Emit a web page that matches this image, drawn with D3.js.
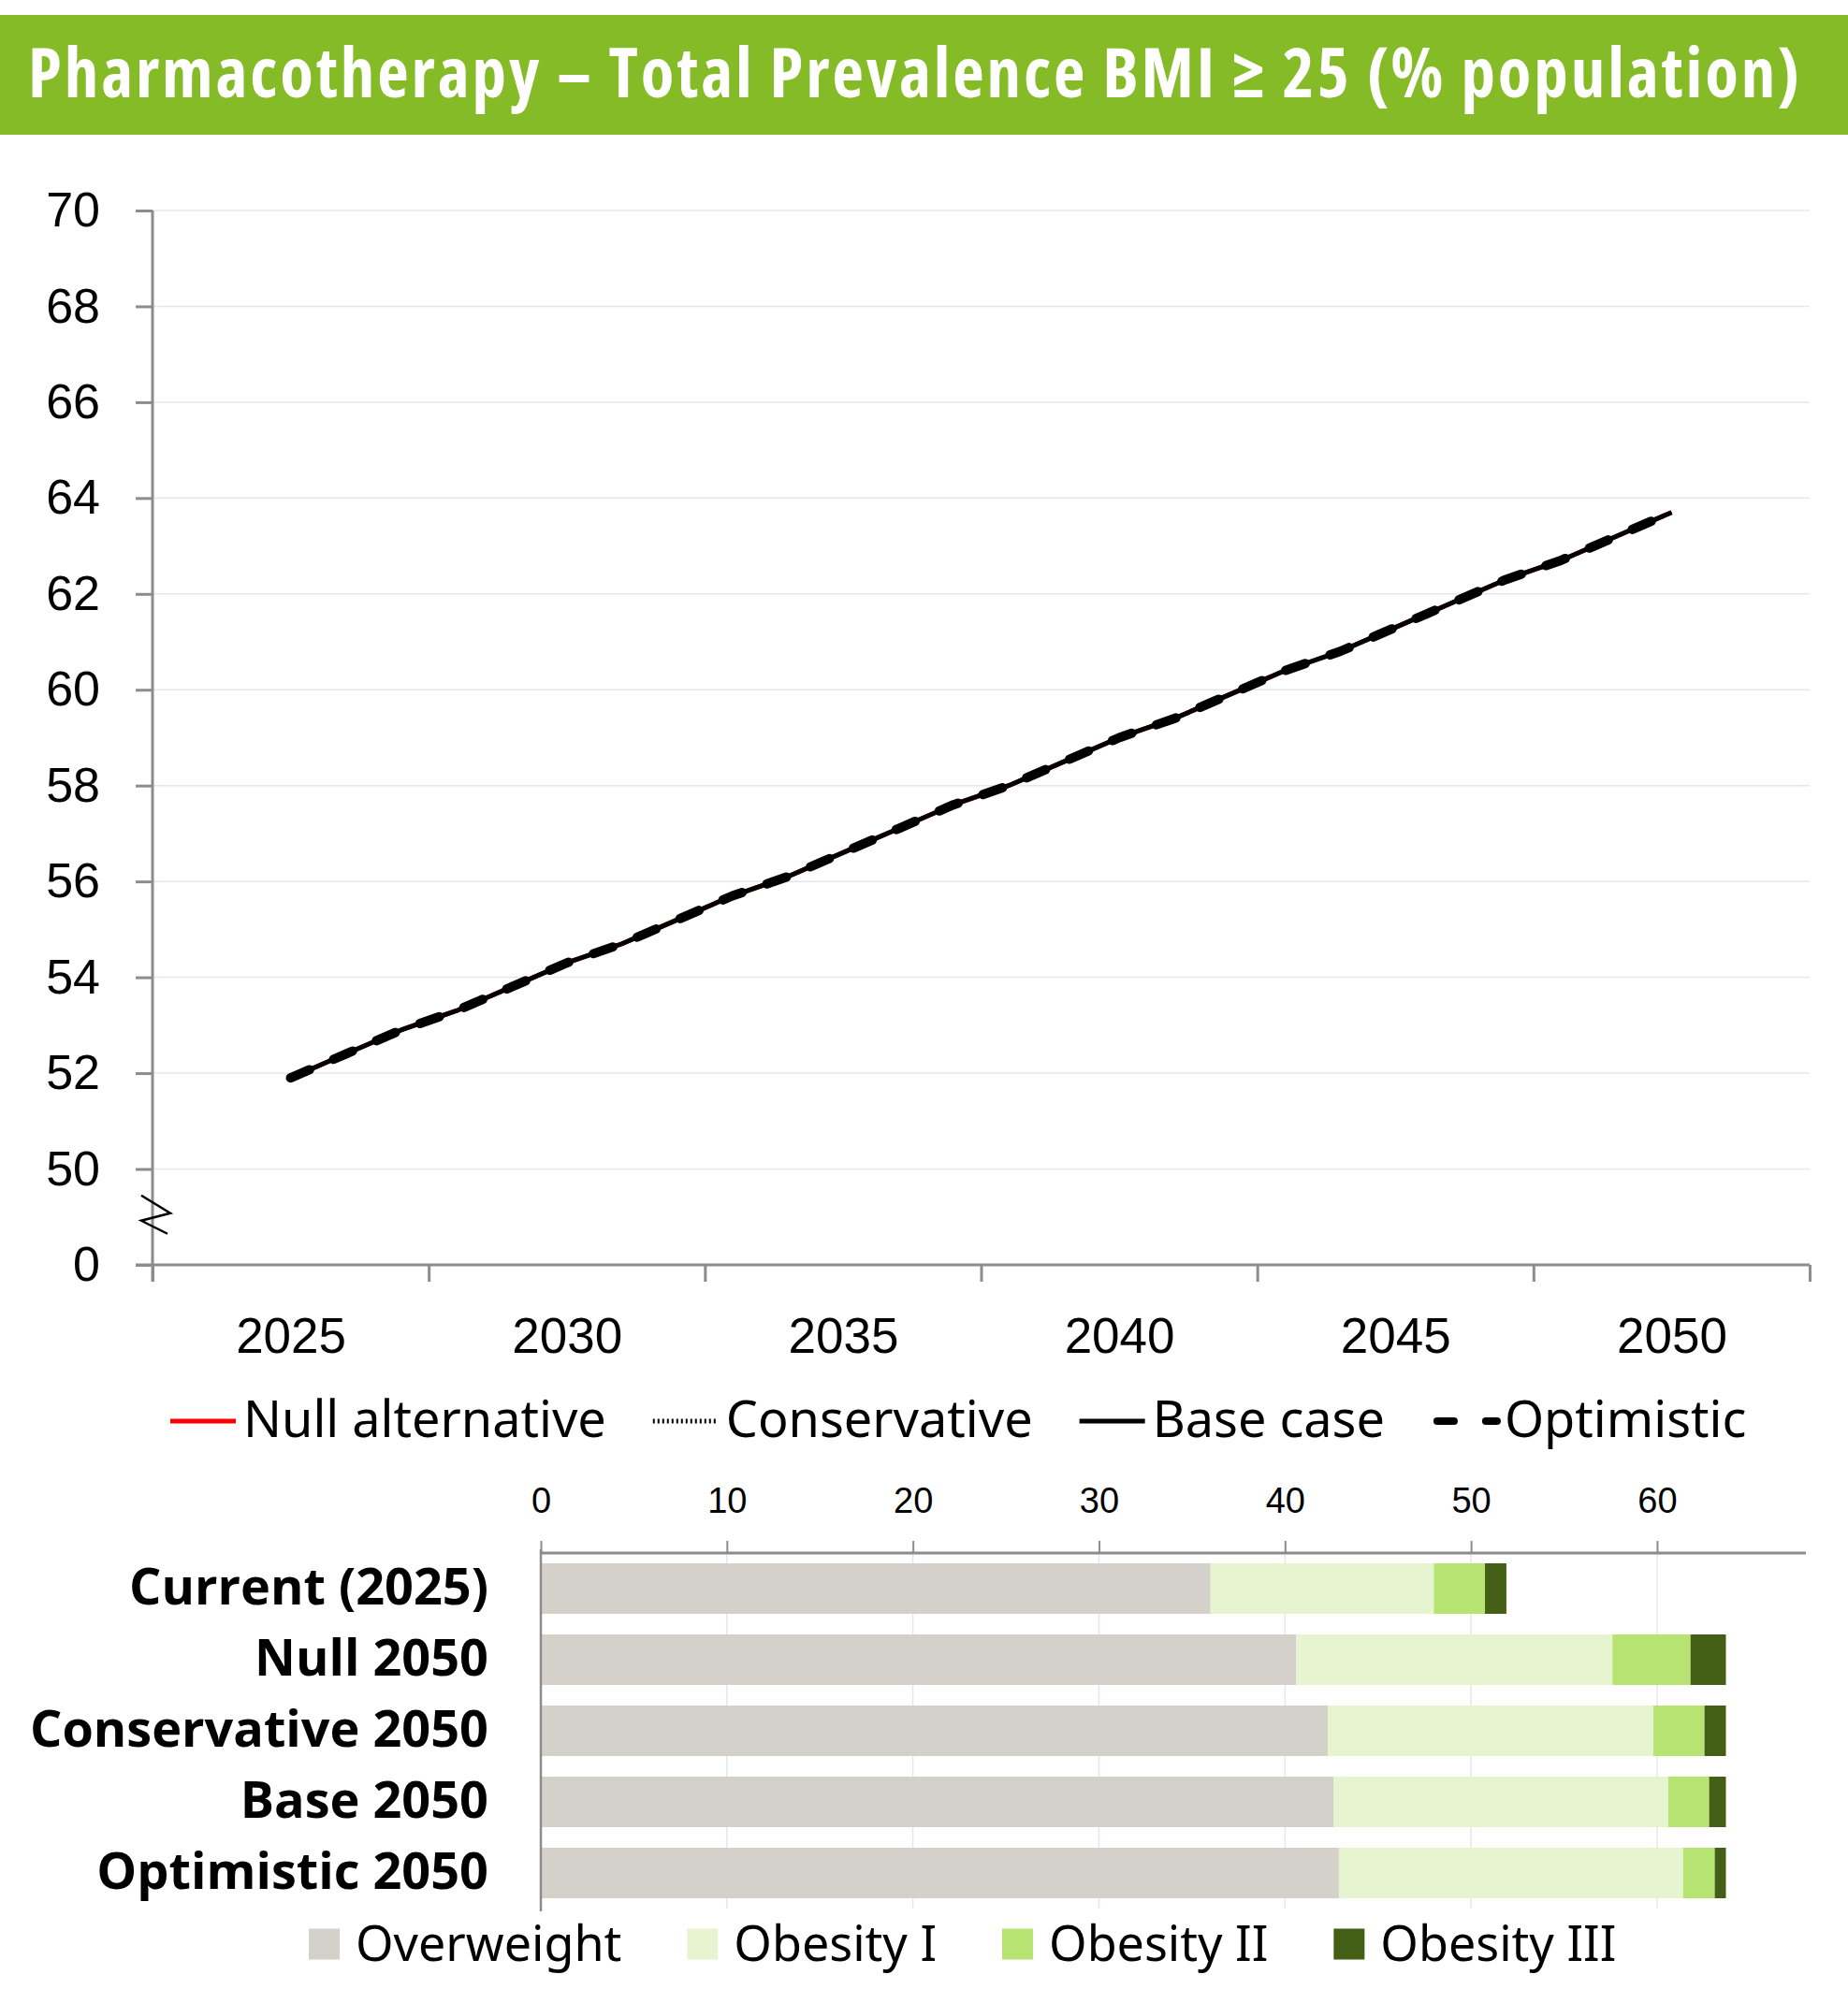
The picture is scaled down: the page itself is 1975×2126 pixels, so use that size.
<!DOCTYPE html>
<html>
<head>
<meta charset="utf-8">
<script src="https://cdn.jsdelivr.net/npm/d3@7"></script>
<style>
  html, body { margin: 0; padding: 0; background: #fff; }
  svg { display: block; }
</style>
</head>
<body>
<svg id="chart" width="1975" height="2126"></svg>
<script>
// ---- Data ----------------------------------------------------------------
const titleText = "Pharmacotherapy \u2013 Total Prevalence BMI \u2265 25 (% population)";

const years = [2025, 2026, 2027, 2028, 2029, 2030, 2031, 2032, 2033, 2034, 2035, 2036, 2037,
               2038, 2039, 2040, 2041, 2042, 2043, 2044, 2045, 2046, 2047, 2048, 2049, 2050];

const nullAlternative = [51.9, 52.4, 52.9, 53.3, 53.8, 54.3, 54.7, 55.2, 55.7, 56.1, 56.6, 57.1, 57.6,
                         58.0, 58.5, 59.0, 59.4, 59.9, 60.4, 60.8, 61.3, 61.8, 62.3, 62.7, 63.2, 63.7];
const conservative    = [51.9, 52.4, 52.9, 53.3, 53.8, 54.3, 54.7, 55.2, 55.7, 56.1, 56.6, 57.1, 57.6,
                         58.0, 58.5, 59.0, 59.4, 59.9, 60.4, 60.8, 61.3, 61.8, 62.3, 62.7, 63.2, 63.7];
const baseCase        = [51.9, 52.4, 52.9, 53.3, 53.8, 54.3, 54.7, 55.2, 55.7, 56.1, 56.6, 57.1, 57.6,
                         58.0, 58.5, 59.0, 59.4, 59.9, 60.4, 60.8, 61.3, 61.8, 62.3, 62.7, 63.2, 63.7];
const optimistic      = [51.9, 52.4, 52.9, 53.3, 53.8, 54.3, 54.7, 55.2, 55.7, 56.1, 56.6, 57.1, 57.6,
                         58.0, 58.5, 59.0, 59.4, 59.9, 60.4, 60.8, 61.3, 61.8, 62.3, 62.7, 63.2, 63.7];

const lineSeriesNames = ["Null alternative", "Conservative", "Base case", "Optimistic"];

const yTickValues = [0, 50, 52, 54, 56, 58, 60, 62, 64, 66, 68, 70];
const xLabelYears = [2025, 2030, 2035, 2040, 2045, 2050];
const xTickBounds = [2022.5, 2027.5, 2032.5, 2037.5, 2042.5, 2047.5, 2052.5];

// Stacked bar breakdown by BMI class
const barCategories = ["Current (2025)", "Null 2050", "Conservative 2050", "Base 2050", "Optimistic 2050"];
const bmiClasses   = ["Overweight", "Obesity I", "Obesity II", "Obesity III"];
const overweight   = [36.0, 40.6, 42.3, 42.6, 42.9];
const obesityI     = [12.0, 17.0, 17.5, 18.0, 18.5];
const obesityII    = [2.75, 4.2, 2.75, 2.2, 1.7];
const obesityIII   = [1.15, 1.9, 1.15, 0.9, 0.6];
const barTicks     = [0, 10, 20, 30, 40, 50, 60];

// ---- Styling -------------------------------------------------------------
const axisColor = "#8c8c8c";
const gridColor = "#e4e8ee";
const numFont = "'Liberation Sans', Arial, sans-serif";
const txtFont = "'Noto Sans', 'Open Sans', sans-serif";
const classColors = ["#d4d1ca", "#e6f5d0", "#b6e371", "#435f15"];

const svg = d3.select("#chart");

// ---- Title banner --------------------------------------------------------
svg.append("rect").attr("x", 0).attr("y", 16).attr("width", 1975).attr("height", 128)
  .attr("fill", "#84bb26");
const title = svg.append("text").attr("x", 30).attr("y", 104)
  .attr("fill", "#fff").attr("font-family", "'Open Sans', sans-serif")
  .attr("font-weight", 700).attr("font-stretch", "semi-condensed").attr("font-size", 73)
  .text(titleText);
// spread the banner text across the banner width
const titleW = title.node().getComputedTextLength();
const titleMax = 1893;
if (titleW < titleMax) {
  title.attr("letter-spacing", (titleMax - titleW) / (titleText.length - 1));
} else {
  title.attr("font-size", 73 * titleMax / titleW);
}

// ---- Line chart ----------------------------------------------------------
const x = d3.scaleLinear().domain([2022.5, 2052.5]).range([163, 1934]);
// polylinear domain gives the broken axis between 0 and 50
const y = d3.scaleLinear().domain([0, 50, 70]).range([1352, 1249.5, 225]);

const lc = svg.append("g");

// horizontal gridlines
lc.append("g").selectAll("line").data(yTickValues.filter(d => d > 0)).join("line")
  .attr("x1", x.range()[0]).attr("x2", x.range()[1])
  .attr("y1", d => y(d)).attr("y2", d => y(d))
  .attr("stroke", gridColor).attr("stroke-width", 1.5);

// y axis
const yAxis = lc.append("g").attr("transform", `translate(${x.range()[0]},0)`)
  .call(d3.axisLeft(y).tickValues(yTickValues).tickSize(18).tickPadding(38).tickFormat(d3.format("d")));
yAxis.select(".domain").attr("stroke", axisColor).attr("stroke-width", 3)
  .attr("d", `M0,${y(70)}V${y(0) + 18}`);
yAxis.selectAll(".tick line").attr("stroke", axisColor).attr("stroke-width", 3);
yAxis.selectAll(".tick text").attr("font-family", numFont).attr("font-size", 52).attr("fill", "#000");

// x axis: tick marks on category boundaries, labels every 5 years
const xAxis = lc.append("g").attr("transform", `translate(0,${y(0)})`)
  .call(d3.axisBottom(x).tickValues(xTickBounds).tickSize(18).tickFormat(""));
xAxis.select(".domain").attr("stroke", axisColor).attr("stroke-width", 3)
  .attr("d", `M${x.range()[0] - 18},0H${x.range()[1]}`);
xAxis.selectAll(".tick line").attr("stroke", axisColor).attr("stroke-width", 3);

const xLab = lc.append("g").attr("transform", `translate(0,${y(0)})`)
  .call(d3.axisBottom(x).tickValues(xLabelYears).tickSize(0).tickPadding(56).tickFormat(d3.format("d")));
xLab.select(".domain").remove();
xLab.selectAll(".tick text").attr("font-family", numFont).attr("font-size", 53).attr("fill", "#000");

// axis break marker between 0 and 50
const brk = y((0 + 50) / 2) - 3;
lc.append("path")
  .attr("d", `M${x.range()[0] - 12},${brk - 20}L${x.range()[0] + 19},${brk - 1}L${x.range()[0] - 12},${brk + 7}L${x.range()[0] + 16},${brk + 21}`)
  .attr("fill", "none").attr("stroke", "#000").attr("stroke-width", 2.5);

// series
const lineStyles = [
  { color: "#ff0000", width: 5, dash: null, cap: "butt" },
  { color: "#000", width: 4, dash: "2,3", cap: "butt" },
  { color: "#000", width: 5, dash: null, cap: "butt" },
  { color: "#000", width: 10, dash: "22,28", cap: "round" }
];
const seriesValues = [nullAlternative, conservative, baseCase, optimistic];
const lineGen = d3.line().x(d => x(d[0])).y(d => y(d[1]));

seriesValues.forEach((vals, i) => {
  const st = lineStyles[i];
  lc.append("path")
    .datum(years.map((yr, k) => [yr, vals[k]]))
    .attr("d", lineGen)
    .attr("fill", "none").attr("stroke", st.color).attr("stroke-width", st.width)
    .attr("stroke-dasharray", st.dash).attr("stroke-linecap", st.cap)
    .attr("stroke-linejoin", "round");
});

// line legend
const lg = svg.append("g").attr("transform", "translate(182,1519)");
let lx = 0;
lineSeriesNames.forEach((name, i) => {
  const st = lineStyles[i];
  const sw = 70;
  lg.append("line").attr("x1", lx + (i === 3 ? 6 : 0)).attr("x2", lx + sw).attr("y1", 0).attr("y2", 0)
    .attr("stroke", st.color).attr("stroke-width", i === 3 ? 8 : 5)
    .attr("stroke-dasharray", i === 3 ? "18,34" : st.dash)
    .attr("stroke-linecap", st.cap);
  const t = lg.append("text").attr("x", lx + sw + 8).attr("y", 17)
    .attr("font-family", txtFont).attr("font-size", 54).attr("fill", "#000").text(name);
  lx += sw + 8 + t.node().getComputedTextLength() + 50;
});

// ---- Stacked bar chart ---------------------------------------------------
const xb = d3.scaleLinear().domain([0, 68]).range([578, 1930]);
const yb = d3.scaleBand().domain(barCategories).range([1660, 2040]).paddingInner(0.29).paddingOuter(0.145);

const bc = svg.append("g");

// vertical gridlines
bc.append("g").selectAll("line").data(barTicks.filter(d => d > 0)).join("line")
  .attr("x1", d => xb(d)).attr("x2", d => xb(d))
  .attr("y1", yb.range()[0]).attr("y2", yb.range()[1])
  .attr("stroke", gridColor).attr("stroke-width", 1.5);

const classValues = [overweight, obesityI, obesityII, obesityIII];
const rows = barCategories.map((c, i) => {
  const r = { category: c };
  bmiClasses.forEach((k, j) => { r[k] = classValues[j][i]; });
  return r;
});
const stacked = d3.stack().keys(bmiClasses)(rows);

bc.append("g").selectAll("g").data(stacked).join("g")
  .attr("fill", (d, i) => classColors[i])
  .selectAll("rect").data(d => d).join("rect")
  .attr("x", d => xb(d[0]))
  .attr("width", d => xb(d[1]) - xb(d[0]))
  .attr("y", d => yb(d.data.category))
  .attr("height", yb.bandwidth());

// top value axis
const xbAxis = bc.append("g").attr("transform", `translate(0,${yb.range()[0]})`)
  .call(d3.axisTop(xb).tickValues(barTicks).tickSize(13).tickPadding(30).tickFormat(d3.format("d")));
xbAxis.select(".domain").attr("stroke", axisColor).attr("stroke-width", 3)
  .attr("d", `M${xb.range()[0]},0H${xb.range()[1]}`);
xbAxis.selectAll(".tick line").attr("stroke", axisColor).attr("stroke-width", 2);
xbAxis.selectAll(".tick text").attr("font-family", numFont).attr("font-size", 38).attr("fill", "#000");

// category axis
const ybAxis = bc.append("g").attr("transform", `translate(${xb.range()[0]},0)`)
  .call(d3.axisLeft(yb).tickSize(0).tickPadding(56));
ybAxis.select(".domain").attr("stroke", axisColor).attr("stroke-width", 2.5)
  .attr("d", `M0,${yb.range()[0] - 4}V${yb.range()[1] + 3}`);
ybAxis.selectAll(".tick text").attr("font-family", "'Open Sans', sans-serif")
  .attr("font-weight", 700).attr("font-size", 54).attr("fill", "#000");

// bar legend
const bl = svg.append("g").attr("transform", "translate(330,2078)");
let bx = 0;
bmiClasses.forEach((name, i) => {
  bl.append("rect").attr("x", bx).attr("y", -16.5).attr("width", 33).attr("height", 33)
    .attr("fill", classColors[i]);
  const t = bl.append("text").attr("x", bx + 50).attr("y", 18)
    .attr("font-family", txtFont).attr("font-size", 52).attr("fill", "#000").text(name);
  bx += 50 + t.node().getComputedTextLength() + 70;
});
</script>
</body>
</html>
